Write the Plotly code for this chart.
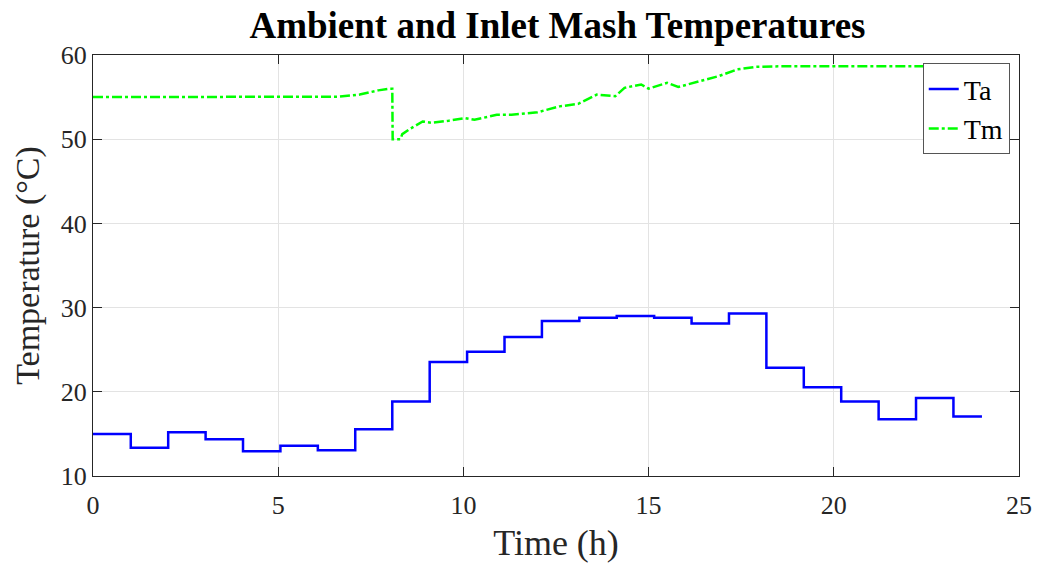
import plotly.graph_objects as go

# Ambient temperature (step-wise, hourly)
ta_time = [0, 1.02, 2.03, 3.04, 4.05, 5.06, 6.07, 7.08, 8.08, 9.09, 10.10, 11.11,
           12.12, 13.13, 14.14, 15.15, 16.16, 17.17, 18.18, 19.19, 20.20, 21.21,
           22.22, 23.23, 24.0]
ta_vals = [15.0, 13.35, 15.2, 14.35, 12.95, 13.6, 13.05, 15.55, 18.85, 23.55, 24.75,
           26.5, 28.4, 28.8, 29.0, 28.8, 28.1, 29.3, 22.85, 20.55, 18.85, 16.73,
           19.25, 17.08, 17.08]

# Inlet mash temperature
tm_time = [0, 5.5, 6.6, 7.2, 7.7, 8.0, 8.08, 8.09, 8.3, 8.35, 8.55, 8.9, 9.15, 9.6,
           10.05, 10.3, 10.9, 11.3, 12.0, 12.6, 13.1, 13.6, 14.1, 14.35, 14.8, 15.0,
           15.5, 15.8, 16.3, 16.9, 17.4, 17.9, 18.5, 24.0]
tm_vals = [55.0, 55.0, 55.05, 55.3, 55.8, 56.0, 56.0, 50.0, 50.0, 50.6, 51.2, 52.1,
           51.95, 52.2, 52.5, 52.3, 52.9, 52.9, 53.2, 53.9, 54.2, 55.3, 55.1, 56.1,
           56.5, 56.0, 56.7, 56.2, 56.8, 57.5, 58.3, 58.6, 58.65, 58.65]

x_ticks = [0, 5, 10, 15, 20, 25]
y_ticks = [10, 20, 30, 40, 50, 60]

FONT = "Liberation Serif"
AX = "#262626"

fig = go.Figure()
fig.add_trace(go.Scatter(x=ta_time, y=ta_vals, mode="lines", name="Ta",
                         line=dict(color="#0000FF", width=2.5, shape="hv")))
fig.add_trace(go.Scatter(x=tm_time, y=tm_vals, mode="lines", name="Tm",
                         line=dict(color="#00FF00", width=2.5, dash="10px,3px,3px,3px")))

axis_common = dict(showline=True, linecolor=AX, linewidth=1, mirror="ticks",
                   ticks="inside", ticklen=9, tickcolor=AX, tickwidth=1,
                   showgrid=True, gridcolor="#e3e3e3", gridwidth=1, zeroline=False,
                   tickfont=dict(family=FONT, size=26, color=AX))

fig.update_xaxes(range=[0, 25], tickvals=x_ticks, ticktext=[str(v) for v in x_ticks],
                 ticklabelstandoff=6,
                 title=dict(text="Time (h)", font=dict(family=FONT, size=36, color=AX), standoff=10),
                 **axis_common)
fig.update_yaxes(range=[10, 60], tickvals=y_ticks, ticktext=[str(v) for v in y_ticks],
                 title=dict(text="Temperature (°C)", font=dict(family=FONT, size=34, color=AX), standoff=10),
                 **axis_common)

fig.update_layout(
    width=1044, height=570,
    margin=dict(l=93, r=21, t=55, b=94),
    paper_bgcolor="white", plot_bgcolor="white",
    title=dict(text="<b>Ambient and Inlet Mash Temperatures</b>",
               font=dict(family=FONT, size=37, color="black"),
               x=0.534, xanchor="center", y=1 - 25 / 570, yanchor="middle"),
    legend=dict(x=0.99, xanchor="right", y=0.98, yanchor="top",
                bgcolor="white", bordercolor="#555555", borderwidth=1,
                font=dict(family=FONT, size=28, color="black"),
                itemwidth=30, tracegroupgap=0),
    showlegend=True,
)

fig.write_html("out.html")
